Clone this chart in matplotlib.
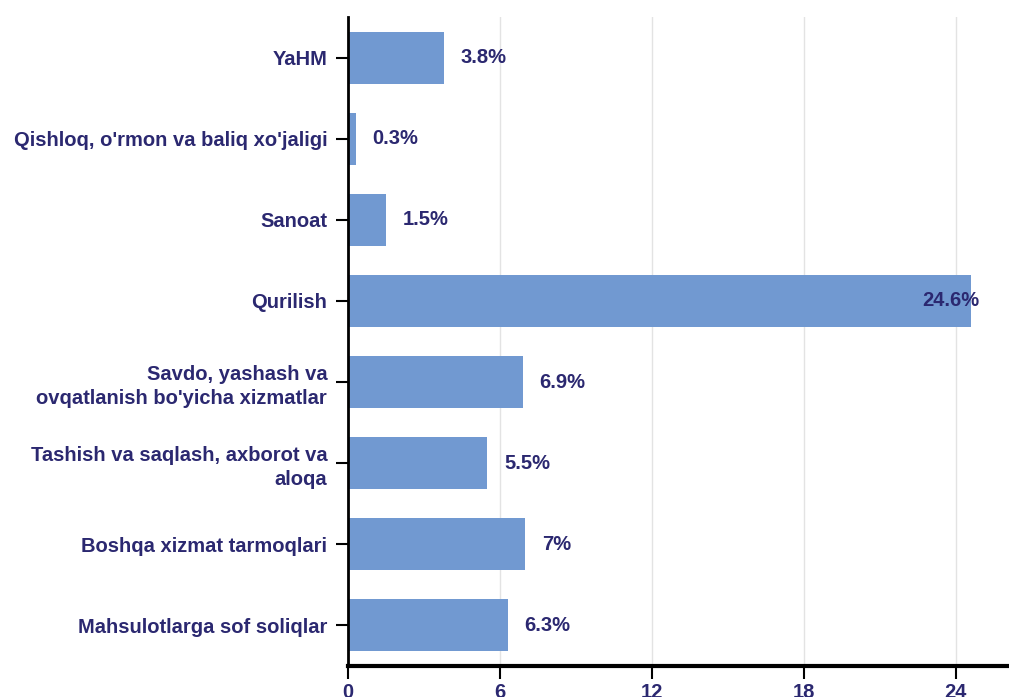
import matplotlib.pyplot as plt

# Ma'lumotlar
sohalar = [
    "YaHM",
    "Qishloq, o'rmon va baliq xo'jaligi",
    "Sanoat",
    "Qurilish",
    "Savdo, yashash va\novqatlanish bo'yicha xizmatlar",
    "Tashish va saqlash, axborot va\naloqa",
    "Boshqa xizmat tarmoqlari",
    "Mahsulotlarga sof soliqlar",
]
ulush = [3.8, 0.3, 1.5, 24.6, 6.9, 5.5, 7.0, 6.3]
belgilar = ["3.8%", "0.3%", "1.5%", "24.6%", "6.9%", "5.5%", "7%", "6.3%"]
x_ticks = [0, 6, 12, 18, 24]

matn_rang = '#2b2870'
bar_rang = '#7199d1'

plt.rcParams['font.family'] = ['Liberation Sans', 'DejaVu Sans']

fig = plt.figure(figsize=(10.09, 6.97), dpi=100)
ax = fig.add_axes([348 / 1009, 31 / 697, 661 / 1009, 649 / 697])

y = list(range(len(sohalar)))
ax.barh(y, ulush, height=0.64, color=bar_rang, zorder=2)

for i, (v, b) in enumerate(zip(ulush, belgilar)):
    if v > 20:
        ax.annotate(b, (v, i), xytext=(6, 0), textcoords='offset points',
                    ha='right', va='center', fontsize=14.5, fontweight='bold',
                    color=matn_rang, zorder=3)
    else:
        ax.annotate(b, (v, i), xytext=(12, 0), textcoords='offset points',
                    ha='left', va='center', fontsize=14.5, fontweight='bold',
                    color=matn_rang, zorder=3)

ax.set_ylim(len(sohalar) - 0.5, -0.5)
ax.set_xlim(0, 26.1)
ax.set_yticks(y)
ax.set_yticklabels(sohalar, fontsize=14.5, fontweight='bold', color=matn_rang,
                   linespacing=1.3)
ax.set_xticks(x_ticks)
ax.set_xticklabels([str(t) for t in x_ticks], fontsize=14.5, fontweight='bold',
                   color=matn_rang)

ax.tick_params(axis='y', length=9, width=1.5, pad=6, color='black')
ax.tick_params(axis='x', length=9, width=1.5, pad=3, color='black')

ax.grid(axis='x', color='#e3e3e3', linewidth=1, zorder=0)
ax.spines['top'].set_visible(False)
ax.spines['right'].set_visible(False)
ax.spines['left'].set_linewidth(2)
ax.spines['bottom'].set_linewidth(3)

plt.savefig('out.png', dpi=100)
